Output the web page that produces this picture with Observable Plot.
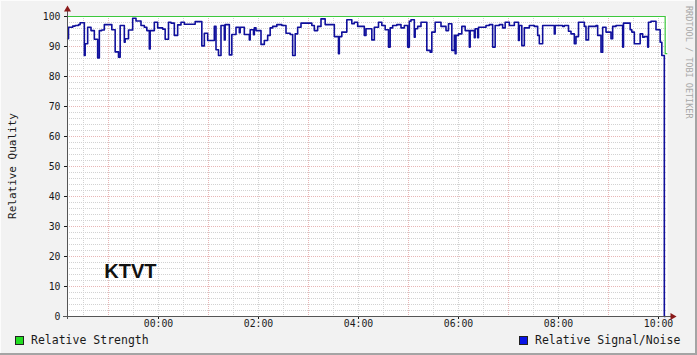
<!DOCTYPE html>
<html><head><meta charset="utf-8">
<script src="https://cdn.jsdelivr.net/npm/d3@7"></script>
<script src="https://cdn.jsdelivr.net/npm/@observablehq/plot@0.6"></script>
<style>
html,body{margin:0;padding:0;background:#f2f2f2;}
#wrap{position:relative;width:697px;height:355px;background:#f2f2f2;overflow:hidden;box-shadow:inset -2px -2px 0 #a4a4a4, inset 1px 1px 0 #fcfcfc;}
#wrap svg{position:absolute;left:0;top:0;}
.txt{position:absolute;font-family:"DejaVu Sans Mono",monospace;color:#1a1a1a;white-space:nowrap;}
.sw{position:absolute;width:7px;height:7px;border:1px solid #222;}
</style></head><body><div id="wrap"></div>
<script>
// ---- data (times in HH:MM, window is the 12 h ending 10:10:48) ----
const windowMinutes = [-109.2, 610.8];
const snrTimes = ["22:11","22:12","22:17","22:20","22:24","22:26","22:31","22:32","22:35","22:39","22:43","22:47","22:49","22:52","22:55","23:04","23:08","23:12","23:14","23:19","23:20","23:24","23:29","23:33","23:39","23:43","23:46","23:49","23:50","23:55","23:59",
"00:05","00:08","00:12","00:15","00:19","00:23","00:27","00:31","00:44","00:52","00:55","00:59","01:07","01:09","01:12","01:15","01:19","01:20","01:25","01:28","01:33","01:37","01:38","01:43","01:49","01:50","01:54","01:55","01:57",
"02:03","02:07","02:11","02:14","02:17","02:22","02:28","02:33","02:38","02:41","02:44","02:47","02:51","03:04","03:07","03:11","03:15","03:20","03:31","03:36","03:37","03:40","03:46","03:52","03:55","03:59",
"04:07","04:09","04:16","04:19","04:24","04:28","04:32","04:36","04:38","04:41","04:46","04:51","04:55","04:59","05:01","05:03","05:07","05:08","05:11","05:15","05:22","05:26","05:28","05:32","05:39","05:45","05:48","05:52","05:55","05:56","05:57",
"06:00","06:04","06:08","06:13","06:14","06:19","06:20","06:23","06:24","06:33","06:37","06:41","06:44","06:49","06:53","06:56","07:01","07:07","07:12","07:13","07:16","07:19","07:25","07:31","07:35","07:37","07:41","07:55","07:56",
"08:05","08:07","08:12","08:15","08:19","08:21","08:24","08:31","08:33","08:36","08:45","08:47","08:51","08:53","08:57","09:03","09:05","09:09","09:17","09:18","09:26","09:28","09:31","09:38","09:41","09:43","09:47","09:48","09:51","09:57",
"10:02","10:04","10:07","10:08"];
const snrValues = [92.6,96.4,96.8,97.0,97.3,97.9,87.0,90.9,96.4,95.3,92.4,86.2,95.3,95.5,97.3,95.6,88.2,86.4,97.0,91.4,92.6,95.5,99.4,98.5,97.0,96.4,95.3,89.2,95.3,98.1,96.2,
95.8,92.4,98.1,97.8,93.7,97.2,98.1,97.4,98.3,90.2,94.4,92.0,96.7,88.9,87.0,97.0,92.2,97.3,87.2,94.0,96.4,94.6,96.4,94.0,92.2,95.6,93.9,96.2,95.3,
90.7,92.0,93.7,96.2,96.7,97.3,97.0,94.4,94.0,87.0,94.2,96.4,97.8,97.0,95.3,96.7,99.2,97.3,93.3,87.6,93.3,94.8,98.9,97.6,98.1,96.7,
93.7,95.9,92.2,96.4,98.1,97.0,95.6,89.8,96.2,97.0,97.3,96.2,97.0,89.8,98.4,98.9,93.1,95.9,96.7,98.1,88.7,88.1,94.8,98.1,96.7,95.3,97.6,88.7,93.7,87.6,93.7,
94.2,96.7,95.3,89.8,95.3,92.9,95.9,92.9,96.4,97.0,97.3,89.8,97.0,97.3,96.2,98.1,97.0,98.1,92.0,97.0,90.3,96.2,97.0,96.7,93.7,90.9,97.0,94.2,97.0,
96.7,97.0,95.1,94.2,90.9,93.3,98.1,96.7,92.2,96.7,97.0,93.7,88.1,96.4,94.8,92.6,96.7,97.0,89.8,97.8,95.6,94.8,90.9,94.2,93.1,93.3,89.8,98.1,98.4,95.6,
91.4,87.0,0,0];
const strengthTimes = ["22:11","10:08","10:10"];
const strengthValues = [100,87.6,87.6];
const yTicks = [0,10,20,30,40,50,60,70,80,90,100];
const xTickLabels = ["00:00","02:00","04:00","06:00","08:00","10:00"];
const noteText = ["KTVT"];
const noteTime = ["22:55"];
const noteValue = [15];

// ---- build ----
const toMin = s => { const [h,m] = s.split(":").map(Number); return h >= 12 ? h*60+m-1440 : h*60+m; };
const snr = snrTimes.map((t,i) => ({t: toMin(t), v: snrValues[i]}));
const strength = strengthTimes.map((t,i) => ({t: toMin(t), v: strengthValues[i]}));
const notes = noteText.map((s,i) => ({s, t: toMin(noteTime[i]), v: noteValue[i]}));
const xTickTimes = xTickLabels.map(toMin);
const halfHours = d3.range(-90, 601, 30);
const xMajor = halfHours.filter(m => ((m/60)%2+2)%2 === 1);
const xMinor = halfHours.filter(m => !xMajor.includes(m));
const yMajor = yTicks.filter(v => v > 0);
const yMinor = d3.range(2, 100, 2).filter(v => v % 10 !== 0);

const chart = Plot.plot({
  width: 697, height: 355,
  marginTop: 16, marginBottom: 39, marginLeft: 67, marginRight: 30,
  x: {type: "linear", domain: windowMinutes},
  y: {domain: [0, 100]},
  style: {background: "transparent", fontFamily: "'DejaVu Sans Mono', monospace", fontSize: "9.8px", color: "#1a1a1a", overflow: "visible"},
  marks: [
    Plot.frame({fill: "white", stroke: null}),
    Plot.ruleY(yMinor, {stroke: "#d2d2d2", strokeDasharray: "1,1"}),
    Plot.ruleX(xMinor, {stroke: "#d2d2d2", strokeDasharray: "1,1"}),
    Plot.ruleY(yMajor, {stroke: "#e8b6b6", strokeDasharray: "1,1"}),
    Plot.ruleX(xMajor, {stroke: "#e8b6b6", strokeDasharray: "1,1"}),
    Plot.line(strength, {x: "t", y: "v", curve: "step-after", stroke: "#3cc83c", strokeWidth: 1.2}),
    Plot.line(snr, {x: "t", y: "v", curve: "step-after", stroke: "#10109c", strokeWidth: 1.6}),
    Plot.text(notes, {x: "t", y: "v", text: "s", textAnchor: "start", fontSize: 20, fontWeight: "bold", fontFamily: "'Liberation Sans', Arial, sans-serif", fill: "#111"}),
    Plot.axisY({ticks: yTicks, tickSize: 3, tickPadding: 4, label: null, tickFormat: d => String(d)}),
    Plot.axisX({ticks: xTickTimes, tickSize: 3, tickPadding: 1, label: null, tickFormat: d => xTickLabels[xTickTimes.indexOf(d)]}),
    Plot.frame({anchor: "left", stroke: "#555", insetTop: -6, insetBottom: -2}),
    Plot.frame({anchor: "bottom", stroke: "#555", insetLeft: -4, insetRight: -3}),
    Plot.dot([0], {frameAnchor: "top-left", symbol: "triangle", r: 2.6, fill: "#8b1a1a", stroke: null, dy: -7}),
    Plot.dot([0], {frameAnchor: "bottom-right", symbol: "triangle", r: 2.6, fill: "#8b1a1a", stroke: null, rotate: 90, dx: 5})
  ]
});
const wrap = document.getElementById("wrap");
wrap.appendChild(chart);

function addText(html, css) { const d = document.createElement("div"); d.className = "txt"; d.textContent = html; Object.assign(d.style, css); wrap.appendChild(d); return d; }
function addSwatch(color, left, top) { const d = document.createElement("div"); d.className = "sw"; Object.assign(d.style, {background: color, left: left+"px", top: top+"px"}); wrap.appendChild(d); }

addText("Relative Quality", {left: "12px", top: "166px", fontSize: "11px", transform: "translate(-50%,-50%) rotate(-90deg)"});
addText("RRDTOOL / TOBI OETIKER", {left: "684px", top: "6px", fontSize: "8.5px", lineHeight: "9px", color: "#a8a8a8", writingMode: "vertical-rl"});
addSwatch("#22dd22", 15, 336);
addText("Relative Strength", {left: "31px", top: "334px", fontSize: "11.5px", lineHeight: "12px"});
addSwatch("#0a14e6", 519, 336);
addText("Relative Signal/Noise", {left: "535px", top: "334px", fontSize: "11.5px", lineHeight: "12px"});
</script></body></html>
